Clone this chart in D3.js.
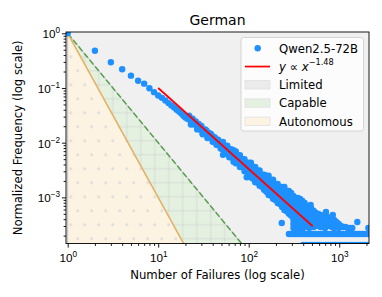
<!DOCTYPE html>
<html>
<head>
<meta charset="utf-8">
<script src="https://cdn.jsdelivr.net/npm/d3@7"></script>
<style>
  body { margin: 0; background: #fff; }
  svg { font-family: "DejaVu Sans", sans-serif; }
</style>
</head>
<body>
<div id="chart"></div>
<script>
// failure counts 1..20, one point each
const headPoints = [
  [1, 1], [2, 0.48], [3, 0.295], [4, 0.22], [5, 0.168], [6, 0.136], [7, 0.12],
  [8, 0.099], [9, 0.084], [10, 0.073], [11, 0.066], [12, 0.059], [13, 0.053],
  [14, 0.048], [15, 0.044], [16, 0.04], [17, 0.037], [18, 0.034], [19, 0.031], [20, 0.029]
];
// failure counts 21..50
const bodyPoints = [
  [21, 0.0274], [22, 0.0267], [23, 0.0233], [24, 0.0241], [25, 0.0214], [26, 0.0219],
  [27, 0.0189], [28, 0.0201], [29, 0.0174], [30, 0.0187], [31, 0.015], [32, 0.0166],
  [33, 0.0147], [34, 0.0167], [35, 0.0133], [36, 0.0144], [37, 0.0127], [38, 0.0146],
  [39, 0.012], [40, 0.0126], [41, 0.0105], [42, 0.0126], [43, 0.0106], [44, 0.0112],
  [45, 0.0093], [46, 0.0113], [47, 0.0094], [48, 0.0098], [49, 0.0084], [50, 0.0097]
];
// extra spread around the same counts
const bodySpread = [
  [22, 0.031], [24, 0.0275], [26, 0.0245], [28, 0.022], [30, 0.0203], [33, 0.0175],
  [36, 0.0152], [39, 0.0137], [42, 0.0121], [45, 0.0111], [48, 0.0101],
  [23, 0.0215], [27, 0.0175], [31, 0.0142], [35, 0.0122], [40, 0.0104], [44, 0.0092], [49, 0.0078]
];
// denser part of the cloud: [failures, [frequencies...]]
const cloudColumns = [
  [52, [0.0103, 0.0087, 0.0074, 0.006]],
  [55, [0.0087, 0.0074, 0.0065]],
  [58, [0.0088, 0.0074, 0.0063]],
  [61, [0.0075, 0.0063, 0.0054]],
  [64, [0.0076, 0.0064, 0.0054]],
  [68, [0.0073, 0.0061, 0.0052, 0.0045]],
  [72, [0.0069, 0.0059, 0.0049, 0.0042]],
  [76, [0.0059, 0.005, 0.0042]],
  [80, [0.0059, 0.005, 0.0042, 0.0036]],
  [85, [0.005, 0.0042, 0.0036]],
  [90, [0.005, 0.0042, 0.0036, 0.003]],
  [95, [0.0042, 0.0036, 0.003, 0.00234]],
  [100, [0.0043, 0.0036, 0.003, 0.0026]],
  [106, [0.0043, 0.0036, 0.003, 0.0026, 0.0023]],
  [112, [0.0036, 0.003, 0.0026, 0.0022]],
  [118, [0.0036, 0.0031, 0.0026, 0.0022, 0.0019]],
  [125, [0.0031, 0.0026, 0.0022, 0.00185]],
  [132, [0.0031, 0.0026, 0.0022, 0.00186, 0.00164]],
  [140, [0.00259, 0.00219, 0.00185, 0.00156]],
  [148, [0.00259, 0.00219, 0.00185, 0.00156, 0.00138]],
  [157, [0.00248, 0.0021, 0.00177, 0.0015, 0.00127]],
  [166, [0.00248, 0.00209, 0.00177, 0.0015, 0.00126, 0.00111]],
  [176, [0.00209, 0.00176, 0.00149, 0.00126, 0.00107]],
  [186, [0.0021, 0.00177, 0.0015, 0.00127, 0.00107, 0.00094]],
  [197, [0.00177, 0.00149, 0.00126, 0.00107, 0.0009]],
  [209, [0.00176, 0.00149, 0.00126, 0.00106, 0.0009, 0.00079]],
  [221, [0.00149, 0.00126, 0.00106, 0.0009, 0.00076]],
  [232, [0.00034]],
  [234, [0.00156, 0.00132, 0.00111, 0.00094, 0.00079, 0.00067]],
  [248, [0.00155, 0.00132, 0.00111, 0.00094, 0.00079, 0.00067, 0.00059]],
  [263, [0.00131, 0.00111, 0.00094, 0.00079, 0.00067, 0.00056]],
  [278, [0.00131, 0.00111, 0.00094, 0.00079, 0.00067, 0.00057, 0.0005]],
  [295, [0.0012, 0.00102, 0.00086, 0.00073, 0.00061, 0.00052, 0.00046]],
  [312, [0.00106, 0.000896, 0.000757, 0.00064, 0.000541, 0.000458, 0.000387, 0.000327, 0.000276]],
  [330, [0.000975, 0.000824, 0.000696, 0.000589, 0.000498, 0.000421, 0.000356, 0.000301]],
  [350, [0.000975, 0.000824, 0.000696, 0.000589, 0.000498, 0.000421, 0.000356, 0.000301, 0.000265]],
  [370, [0.000935, 0.00079, 0.000668, 0.000564, 0.000477, 0.000403, 0.000341, 0.000288]],
  [392, [0.000859, 0.000726, 0.000614, 0.000519, 0.000439, 0.000371, 0.000313, 0.000265]],
  [415, [0.00079, 0.000668, 0.000564, 0.000477, 0.000403, 0.000341, 0.000288]],
  [440, [0.000696, 0.000589, 0.000498, 0.000421, 0.000356, 0.000301]],
  [466, [0.00064, 0.000541, 0.000458, 0.000387, 0.000327, 0.000276]],
  [484, [0.000726]],
  [494, [0.000614, 0.000519, 0.000439, 0.000371, 0.000313]],
  [523, [0.000564, 0.000477, 0.000403, 0.000341, 0.000288]],
  [554, [0.000519, 0.000439, 0.000371, 0.000313]],
  [587, [0.000498, 0.000421, 0.000356, 0.000301]],
  [622, [0.000477, 0.000403, 0.000341, 0.000288]],
  [659, [0.000458, 0.000387, 0.000327]],
  [698, [0.000439, 0.000371, 0.000313, 0.000276]],
  [714, [0.000541]],
  [740, [0.000439, 0.000371, 0.000313]],
  [784, [0.000421, 0.000356, 0.000301]],
  [830, [0.000403, 0.000341, 0.000288]],
  [850, [0.000477]],
  [880, [0.000387, 0.000327, 0.000276]],
  [932, [0.000356, 0.000301]],
  [988, [0.000327, 0.000276]],
  [1046, [0.000301]],
  [1108, [0.000288]],
  [1174, [0.000288]],
  [1244, [0.000276]],
  [1318, [0.000276]],
  [1396, [0.000276]],
  [1585, [0.000356]],
  [2100, [0.000276]]
];
// the single-occurrence floor and the row under it
const floorX = [278, 295, 312, 330, 350, 370, 392, 415, 440, 466, 494, 523, 554, 587, 622, 659,
  698, 740, 784, 830, 880, 932, 988, 1046, 1108, 1174, 1244, 1318, 1396, 1479, 1567, 1660,
  1758, 1862, 1973, 2090];
const floorY = 0.000214;
const lowRowX = [398, 422, 447, 474, 502, 532, 564, 598, 634, 672, 712, 755, 800, 848, 899, 953,
  1010, 1071, 1135, 1203, 1275, 1352, 1433, 1519, 1610, 1707, 1809, 1918, 2033, 2150];
const lowRowY = 0.000135;

// power-law fit and the region borders
const fitLine = [[10, 0.1], [510, 0.000297]];
const capableEdge = [[1, 1], [200, 2.5e-5]];
const autonomousEdge = [[1, 1], [40, 1.5625e-5]];

const xMajor = [1, 10, 100, 1000];
const xExp = ["0", "1", "2", "3"];
const yMajor = [1, 0.1, 0.01, 0.001];
const yExp = ["0", "\u22121", "\u22122", "\u22123"];

const colors = {
  dots: "#1e90ff",
  fit: "#ff0000",
  limited: "#f0f0f0",
  capable: "#e4f1e1",
  autonomous: "#fdf3e2",
  capableLine: "#5a9e52",
  autonomousLine: "#e8b060"
};

const W = 382, H = 297;
const plot = { left: 66, right: 369, top: 32, bottom: 243.5 };

const svg = d3.select("#chart").append("svg").attr("width", W).attr("height", H);

const x = d3.scaleLog().domain([0.958, 2134]).range([plot.left, plot.right]);
const y = d3.scaleLog().domain([1.436e-4, 1.056]).range([plot.bottom, plot.top]);

const defs = svg.append("defs");
defs.append("clipPath").attr("id", "clip")
  .append("rect")
  .attr("x", plot.left).attr("y", plot.top)
  .attr("width", plot.right - plot.left).attr("height", plot.bottom - plot.top);

// hatch for Autonomous: staggered small dots
const dotPat = defs.append("pattern").attr("id", "dotHatch")
  .attr("patternUnits", "userSpaceOnUse")
  .attr("x", -6.3).attr("y", -6.3).attr("width", 14).attr("height", 28);
[[7, 7], [0, 21], [14, 21]].forEach(([cx, cy]) => {
  dotPat.append("circle").attr("cx", cx).attr("cy", cy).attr("r", 1.5).attr("fill", "#dcdcdc");
});
// hatch for Capable: grid
defs.append("pattern").attr("id", "gridHatch")
  .attr("patternUnits", "userSpaceOnUse")
  .attr("x", -6.3).attr("y", -6.3).attr("width", 14).attr("height", 14)
  .append("path").attr("d", "M0,7H14M7,0V14")
  .attr("stroke", "#d3d8d1").attr("stroke-width", 0.9).attr("fill", "none");

const area = svg.append("g").attr("clip-path", "url(#clip)");

area.append("rect")
  .attr("x", plot.left).attr("y", plot.top)
  .attr("width", plot.right - plot.left).attr("height", plot.bottom - plot.top)
  .attr("fill", colors.limited);

// region under a border line, closed along the bottom
const regionPath = (edge) => {
  const last = edge[edge.length - 1];
  const pts = edge.map((d) => [x(d[0]), y(d[1])]);
  pts.push([x(last[0]), y(1e-5) + 50]);
  pts.push([x(edge[0][0]), y(1e-5) + 50]);
  return d3.line()(pts) + "Z";
};

area.append("path").attr("d", regionPath(capableEdge)).attr("fill", colors.capable);
area.append("path").attr("d", regionPath(capableEdge)).attr("fill", "url(#gridHatch)")
  .attr("stroke", "#c4c4c4").attr("stroke-width", 1);
area.append("path").attr("d", regionPath(autonomousEdge)).attr("fill", colors.autonomous);
area.append("path").attr("d", regionPath(autonomousEdge)).attr("fill", "url(#dotHatch)")
  .attr("stroke", "#c4c4c4").attr("stroke-width", 1);

const line = d3.line().x((d) => x(d[0])).y((d) => y(d[1]));

area.append("path").datum(capableEdge).attr("d", line)
  .attr("fill", "none").attr("stroke", colors.capableLine)
  .attr("stroke-width", 1.5).attr("stroke-dasharray", "6,2.6");
area.append("path").datum(autonomousEdge).attr("d", line)
  .attr("fill", "none").attr("stroke", colors.autonomousLine).attr("stroke-width", 1.5);

// scatter
let points = headPoints.concat(bodyPoints, bodySpread);
cloudColumns.forEach(([cx, ys]) => ys.forEach((v) => points.push([cx, v])));
floorX.forEach((v) => points.push([v, floorY]));
lowRowX.forEach((v) => points.push([v, lowRowY]));

area.selectAll("circle.pt")
  .data(points)
  .enter()
  .append("circle")
  .attr("class", "pt")
  .attr("cx", (d) => x(d[0]))
  .attr("cy", (d) => y(d[1]))
  .attr("r", 3.2)
  .attr("fill", colors.dots);

area.append("path").datum(fitLine).attr("d", line)
  .attr("fill", "none").attr("stroke", colors.fit).attr("stroke-width", 1.75);

// axes
const isMajor = (v) => Math.abs(Math.log10(v) - Math.round(Math.log10(v))) < 1e-6;
const xMinor = x.ticks().filter((v) => !isMajor(v));
const yMinor = y.ticks().filter((v) => !isMajor(v));

const xAxisG = svg.append("g").attr("transform", `translate(0,${plot.bottom})`);
xAxisG.append("g").call(d3.axisBottom(x).tickValues(xMinor).tickSize(2.4).tickFormat(""));
const xMaj = xAxisG.append("g").call(d3.axisBottom(x).tickValues(xMajor).tickSize(4.1).tickFormat(""));
xMaj.selectAll(".tick text").each(function (d, i) {
  const t = d3.select(this).attr("y", 18.2).attr("dy", null)
    .attr("font-size", "11.7px").attr("fill", "#000");
  t.append("tspan").text("10");
  t.append("tspan").attr("dy", -5).attr("font-size", "8.2px").text(xExp[i]);
});

const yAxisG = svg.append("g").attr("transform", `translate(${plot.left},0)`);
yAxisG.append("g").call(d3.axisLeft(y).tickValues(yMinor).tickSize(2.4).tickFormat(""));
const yMaj = yAxisG.append("g").call(d3.axisLeft(y).tickValues(yMajor).tickSize(4.1).tickFormat(""));
yMaj.selectAll(".tick text").each(function (d, i) {
  const t = d3.select(this).attr("x", -6).attr("dy", null).attr("y", 4.3)
    .attr("font-size", "11.7px").attr("fill", "#000").attr("text-anchor", "end");
  t.append("tspan").text("10");
  t.append("tspan").attr("dy", -5).attr("font-size", "8.2px").text(yExp[i]);
});

svg.selectAll(".domain").remove();
svg.selectAll(".tick line").attr("stroke", "#000").attr("stroke-width", 0.9);

svg.append("rect")
  .attr("x", plot.left).attr("y", plot.top)
  .attr("width", plot.right - plot.left).attr("height", plot.bottom - plot.top)
  .attr("fill", "none").attr("stroke", "#000").attr("stroke-width", 0.9);

// labels
svg.append("text")
  .attr("x", (plot.left + plot.right) / 2).attr("y", 25)
  .attr("text-anchor", "middle").style("font-size", "14px")
  .text("German");

svg.append("text")
  .attr("x", (plot.left + plot.right) / 2).attr("y", 279)
  .attr("text-anchor", "middle").style("font-size", "11.7px")
  .text("Number of Failures (log scale)");

svg.append("text")
  .attr("transform", `translate(22,${(plot.top + plot.bottom) / 2}) rotate(-90)`)
  .attr("text-anchor", "middle").style("font-size", "11.7px")
  .text("Normalized Frequency (log scale)");

// legend
const legend = svg.append("g");
legend.append("rect")
  .attr("x", 241).attr("y", 37.5).attr("width", 122.5).attr("height", 93.5).attr("rx", 2.5)
  .attr("fill", "#fff").attr("fill-opacity", 0.8)
  .attr("stroke", "#d0d0d0").attr("stroke-width", 0.9);

const rowY = (i) => 48.3 + i * 18.25;
const handleX = 245, handleW = 25, textX = 279;

legend.append("circle").attr("cx", handleX + handleW / 2 + 0.2).attr("cy", rowY(0))
  .attr("r", 3.2).attr("fill", colors.dots);
legend.append("line")
  .attr("x1", handleX).attr("x2", handleX + handleW)
  .attr("y1", rowY(1)).attr("y2", rowY(1))
  .attr("stroke", colors.fit).attr("stroke-width", 1.75);

const patches = [colors.limited, colors.capable, colors.autonomous];
patches.forEach((fill, i) => {
  const cy = rowY(i + 2);
  legend.append("rect").attr("x", handleX).attr("y", cy - 4.2)
    .attr("width", handleW).attr("height", 8.4)
    .attr("fill", fill === colors.limited ? "#ebebeb" : fill)
    .attr("stroke", "#e0e0e0").attr("stroke-width", 0.8);
});

const labels = ["Qwen2.5-72B", null, "Limited", "Capable", "Autonomous"];
labels.forEach((lab, i) => {
  if (lab === null) return;
  legend.append("text").attr("x", textX).attr("y", rowY(i) + 4.2)
    .style("font-size", "11.7px").text(lab);
});
const fitText = legend.append("text").attr("x", textX).attr("y", rowY(1) + 4.2)
  .style("font-size", "11.7px");
fitText.append("tspan").style("font-style", "italic").text("y");
fitText.append("tspan").text(" \u221d ");
fitText.append("tspan").style("font-style", "italic").text("x");
fitText.append("tspan").attr("dy", -5.5).style("font-size", "8.2px").text("\u22121.48");
</script>
</body>
</html>
